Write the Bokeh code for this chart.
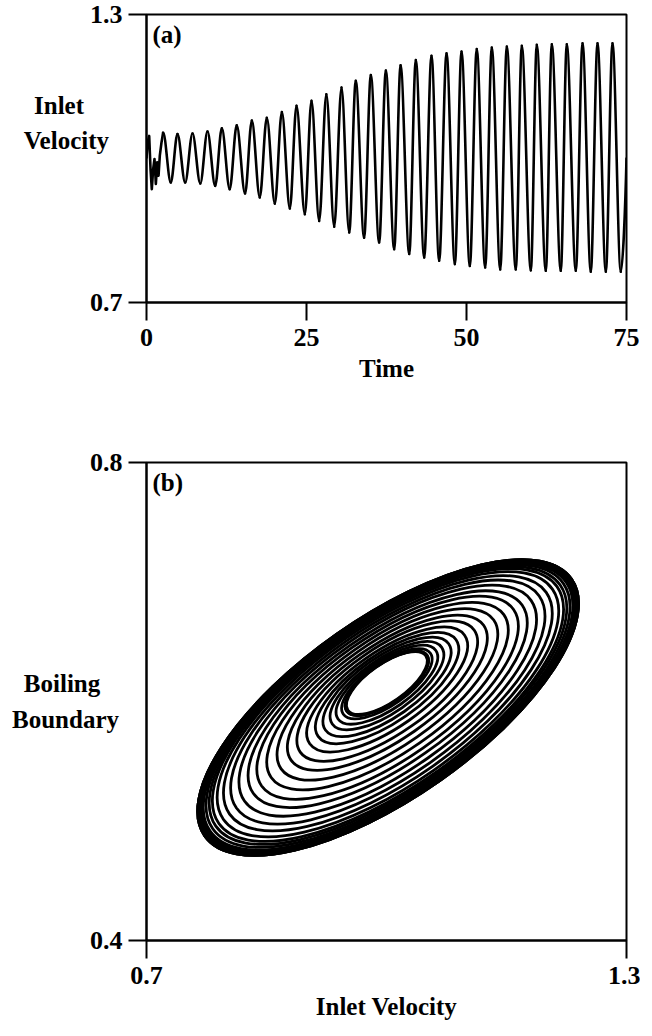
import numpy as np
from bokeh.plotting import figure
from bokeh.layouts import column
from bokeh.models import Range1d, FixedTicker, Label
from bokeh.embed import file_html
from bokeh.resources import INLINE

FONT = "Liberation Serif"
NB = "\u00a0"

# ---------------- panel (a): inlet velocity vs time ----------------
time_ticks = [0, 25, 50, 75]
vel_ticks = [0.7, 1.3]

transient_t = [0.0, 0.16, 0.42, 0.63, 0.83, 1.04, 1.25, 1.46, 1.67, 1.88, 2.08, 2.34]
transient_v = [1.00, 1.033, 1.047, 0.978, 0.936, 0.978, 0.999, 0.947, 0.992, 0.964, 1.006, 1.033]

peak_t = [2.6, 4.84, 7.19, 9.53, 11.77, 14.1, 16.46, 18.8, 21.15, 23.44, 25.78, 28.1, 30.47, 32.7, 35.05,
          37.4, 39.7, 42.08, 44.53, 46.88, 49.22, 51.6, 53.95, 56.3, 58.64, 60.98, 63.33, 65.67, 68.13, 70.47, 72.81]
peak_v = [1.054, 1.051, 1.052, 1.056, 1.063, 1.069, 1.079, 1.085, 1.097, 1.110, 1.120, 1.134, 1.148, 1.162, 1.174,
          1.183, 1.194, 1.205, 1.214, 1.219, 1.223, 1.228, 1.231, 1.233, 1.235, 1.237, 1.238, 1.238, 1.240, 1.240, 1.240]
trough_t = [3.8, 6.04, 8.4, 10.73, 13.0, 15.4, 17.7, 20.05, 22.4, 24.74, 26.98, 29.33, 31.67, 34.0,
            36.35, 38.7, 41.05, 43.39, 45.73, 48.18, 50.52, 52.92, 55.27, 57.7, 60.05, 62.39, 64.73, 67.08,
            69.42, 71.77, 74.11]
trough_v = [0.950, 0.950, 0.948, 0.943, 0.936, 0.927, 0.919, 0.906, 0.896, 0.884, 0.870, 0.858, 0.846, 0.835,
            0.825, 0.811, 0.801, 0.794, 0.787, 0.780, 0.776, 0.773, 0.769, 0.769, 0.767, 0.766, 0.766, 0.766,
            0.764, 0.764, 0.764]
end_t = [75.0]
end_v = [1.00]

# ---------------- panel (b): phase portrait ----------------
vel_b_ticks = [0.7, 1.3]
bb_ticks = [0.4, 0.8]
hole_center = (1.000, 0.621)      # centre of the small inner loops
cycle_center = (1.002, 0.595)     # centre of the limit cycle
cycle_tilt_deg = 35.0             # tilt of the loops
cycle_axis_ratio = 0.40           # minor / major axis of the loops

# ---------------- layout constants ----------------
FW, FH_A, FH_B = 480, 288, 478
LEFT, RIGHT = 146, 14
BEZ_K = 0.34                      # control-point fraction for smooth half-waves


def style(p, xt, yt):
    p.grid.visible = False
    p.outline_line_color = "black"
    p.outline_line_width = 2
    p.background_fill_color = "white"
    p.border_fill_color = "white"
    for ax in (p.xaxis, p.yaxis):
        ax.axis_line_width = 2
        ax.axis_line_color = "black"
        ax.major_tick_in = 0
        ax.major_tick_out = 18
        ax.major_tick_line_width = 2
        ax.minor_tick_line_color = None
        ax.major_label_text_font = FONT
        ax.major_label_text_font_style = "bold"
        ax.major_label_text_font_size = "26px"
        ax.major_label_text_color = "black"
        ax.axis_label_text_font = FONT
        ax.axis_label_text_font_style = "bold"
        ax.axis_label_text_font_size = "25px"
        ax.axis_label_text_color = "black"
        ax.axis_label_text_line_height = 1.3
    p.xaxis.ticker = FixedTicker(ticks=xt)
    p.yaxis.ticker = FixedTicker(ticks=yt)
    p.xaxis.major_label_standoff = 8
    p.yaxis.major_label_standoff = 6
    p.xaxis.axis_label_standoff = 6
    p.yaxis.axis_label_orientation = "horizontal"


def tag(p, x, y, s):
    p.add_layout(Label(x=x, y=y, text=s, text_font=FONT, text_font_style="bold",
                       text_font_size="25px", text_color="black",
                       x_offset=6, y_offset=-6, text_baseline="top"))


# ----- panel (a) -----
pa = figure(frame_width=FW, frame_height=FH_A, x_range=Range1d(0, 75), y_range=Range1d(0.7, 1.3),
            min_border_left=LEFT, min_border_right=RIGHT, min_border_top=14, min_border_bottom=128,
            output_backend="svg", toolbar_location=None)
style(pa, time_ticks, vel_ticks)
pa.xaxis.axis_label = "Time"
pa.yaxis.axis_label = "Inlet" + NB * 4 + "\nVelocity\n" + NB + "\n" + NB
pa.yaxis.axis_label_standoff = -22

# transient (jagged start)
pa.line(transient_t + [peak_t[0]], transient_v + [peak_v[0]], line_color="black", line_width=2.6,
        line_join="round")
# smooth half-waves between successive extrema
ext_t = np.array(peak_t + trough_t)
ext_v = np.array(peak_v + trough_v)
o = np.argsort(ext_t)
ext_t, ext_v = ext_t[o], ext_v[o]
t0, t1 = ext_t[:-1], ext_t[1:]
v0, v1 = ext_v[:-1], ext_v[1:]
dt = t1 - t0
pa.bezier(x0=t0, y0=v0, x1=t1, y1=v1, cx0=t0 + BEZ_K * dt, cy0=v0, cx1=t1 - BEZ_K * dt, cy1=v1,
          line_color="black", line_width=2.6, line_cap="round")
# last rising part up to the end of the record
pa.bezier(x0=[ext_t[-1]], y0=[ext_v[-1]], x1=end_t, y1=end_v,
          cx0=[ext_t[-1] + BEZ_K * (end_t[0] - ext_t[-1])], cy0=[ext_v[-1]],
          cx1=[end_t[0] - 0.2 * (end_t[0] - ext_t[-1])], cy1=[end_v[0] - 0.1],
          line_color="black", line_width=2.6, line_cap="round")
tag(pa, 0, 1.3, "(a)")

# ----- panel (b) -----
pk = np.array(peak_v)
tr = np.array(trough_v)
amp = (pk - tr) / 2.0
frac = amp / amp.max()
cx = hole_center[0] + frac * (cycle_center[0] - hole_center[0])
cy = hole_center[1] + frac * (cycle_center[1] - hole_center[1])
th = np.radians(cycle_tilt_deg)
r = cycle_axis_ratio
px_x = FW / 0.6
px_y = FH_B / 0.4
w = 2 * amp / np.sqrt(np.cos(th) ** 2 + (r * np.sin(th)) ** 2)
h = r * w * px_x / px_y

pb = figure(frame_width=FW, frame_height=FH_B, x_range=Range1d(0.7, 1.3), y_range=Range1d(0.4, 0.8),
            min_border_left=LEFT, min_border_right=RIGHT, min_border_top=32, min_border_bottom=80,
            output_backend="svg", toolbar_location=None)
style(pb, vel_b_ticks, bb_ticks)
pb.xaxis.axis_label = "Inlet Velocity"
pb.yaxis.axis_label = "Boiling" + NB * 3 + "\nBoundary"
pb.yaxis.axis_label_standoff = -32
pb.ellipse(x=cx, y=cy, width=w, height=h, angle=th, fill_color=None, line_color="black", line_width=2.8)
tag(pb, 0.7, 0.8, "(b)")

layout = column(pa, pb, spacing=0)
open("out.html", "w").write(file_html(layout, INLINE))
